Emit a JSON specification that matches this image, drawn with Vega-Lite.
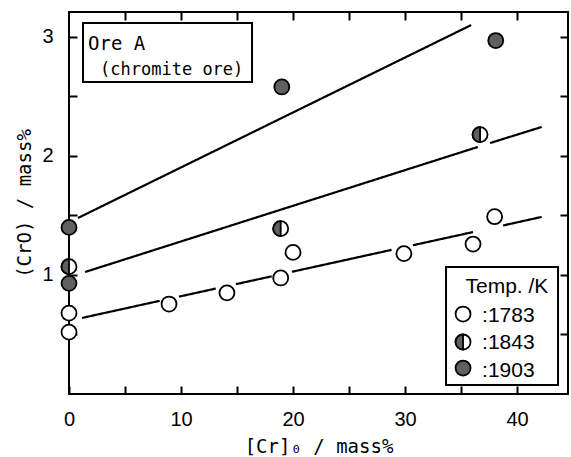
{
  "$schema": "https://vega.github.io/schema/vega-lite/v6.json",
  "width": 499,
  "height": 382,
  "autosize": {"type": "none"},
  "padding": {"left": 69, "top": 12, "right": 3, "bottom": 63},
  "background": "white",
  "config": {
    "view": {"stroke": "black", "strokeWidth": 2},
    "axis": {"domain": false, "grid": false, "tickColor": "black", "tickWidth": 2, "labelColor": "black", "titleColor": "black", "labelFlush": false, "labelOverlap": false}
  },
  "datasets": {
    "pts": [
      {"role": "data", "temp": 1783, "x": 0, "y": 0.52},
      {"role": "data", "temp": 1783, "x": 0, "y": 0.68},
      {"role": "data", "temp": 1783, "x": 8.93, "y": 0.756},
      {"role": "data", "temp": 1783, "x": 14.1, "y": 0.85},
      {"role": "data", "temp": 1783, "x": 18.9, "y": 0.975},
      {"role": "data", "temp": 1783, "x": 20.0, "y": 1.19},
      {"role": "data", "temp": 1783, "x": 29.9, "y": 1.18},
      {"role": "data", "temp": 1783, "x": 36.07, "y": 1.26},
      {"role": "data", "temp": 1783, "x": 38.0, "y": 1.49},
      {"role": "data", "temp": 1843, "x": 0, "y": 1.07},
      {"role": "data", "temp": 1843, "x": 18.9, "y": 1.39},
      {"role": "data", "temp": 1843, "x": 36.7, "y": 2.18},
      {"role": "data", "temp": 1903, "x": 0, "y": 1.40},
      {"role": "data", "temp": 1903, "x": 0, "y": 0.93},
      {"role": "data", "temp": 1903, "x": 19.0, "y": 2.58},
      {"role": "data", "temp": 1903, "x": 38.1, "y": 2.97},
      {"role": "legend", "temp": 1783, "x": 35.18, "y": 0.672},
      {"role": "legend", "temp": 1843, "x": 35.18, "y": 0.437},
      {"role": "legend", "temp": 1903, "x": 35.18, "y": 0.218}
    ],
    "segs": [
      {"temp": 1783, "seg": "a", "x": 1.16, "y": 0.639},
      {"temp": 1783, "seg": "a", "x": 8.1, "y": 0.783},
      {"temp": 1783, "seg": "b", "x": 9.82, "y": 0.818},
      {"temp": 1783, "seg": "b", "x": 13.1, "y": 0.886},
      {"temp": 1783, "seg": "c", "x": 14.9, "y": 0.923},
      {"temp": 1783, "seg": "c", "x": 18.1, "y": 0.989},
      {"temp": 1783, "seg": "d", "x": 19.9, "y": 1.027},
      {"temp": 1783, "seg": "d", "x": 28.8, "y": 1.211},
      {"temp": 1783, "seg": "e", "x": 30.7, "y": 1.250},
      {"temp": 1783, "seg": "e", "x": 36.07, "y": 1.361},
      {"temp": 1783, "seg": "f", "x": 38.75, "y": 1.416},
      {"temp": 1783, "seg": "f", "x": 42.2, "y": 1.488},
      {"temp": 1843, "seg": "a", "x": 1.43, "y": 1.025},
      {"temp": 1843, "seg": "a", "x": 36.5, "y": 2.076},
      {"temp": 1843, "seg": "b", "x": 37.6, "y": 2.109},
      {"temp": 1843, "seg": "b", "x": 42.2, "y": 2.244},
      {"temp": 1903, "seg": "a", "x": 0.8, "y": 1.479},
      {"temp": 1903, "seg": "a", "x": 35.9, "y": 3.10}
    ],
    "boxes": [
      {"name": "ore", "x": 1.25, "x2": 16.34, "y": 2.622, "y2": 3.118},
      {"name": "legend", "x": 33.66, "x2": 43.66, "y": 0.076, "y2": 1.067}
    ],
    "texts": [
      {"kind": "big", "x": 1.70, "y": 2.89, "text": "Ore A"},
      {"kind": "small", "x": 2.77, "y": 2.68, "text": "(chromite ore)"},
      {"kind": "legendTitle", "x": 39.1, "y": 0.849, "text": "Temp. /K"},
      {"kind": "legend", "x": 36.88, "y": 0.605, "text": ":1783"},
      {"kind": "legend", "x": 36.88, "y": 0.378, "text": ":1843"},
      {"kind": "legend", "x": 36.88, "y": 0.143, "text": ":1903"}
    ]
  },
  "encoding": {
    "x": {"field": "x", "type": "quantitative", "scale": {"domain": [0, 44.55], "nice": false, "zero": false}, "axis": null},
    "y": {"field": "y", "type": "quantitative", "scale": {"domain": [0, 3.21], "nice": false, "zero": false}, "axis": null}
  },
  "layer": [
    {
      "data": {"name": "segs"},
      "mark": {"type": "line", "color": "black", "strokeWidth": 2.2},
      "encoding": {
        "x": {"field": "x", "type": "quantitative", "scale": {"domain": [0, 44.55], "nice": false, "zero": false},
          "axis": {"orient": "bottom", "values": [0, 5, 10, 15, 20, 25, 30, 35, 40], "format": "d", "labelExpr": "datum.value % 10 === 0 ? datum.label : ''",
            "tickSize": -8, "labelPadding": 23, "labelFont": "Liberation Sans", "labelFontSize": 20,
            "title": "[Cr]₀ / mass%", "titleFont": "DejaVu Sans Mono", "titleFontSize": 19, "titleFontWeight": "normal", "titlePadding": 8}},
        "y": {"field": "y", "type": "quantitative", "scale": {"domain": [0, 3.21], "nice": false, "zero": false},
          "axis": {"orient": "left", "values": [0.5, 1, 1.5, 2, 2.5, 3], "format": ".0f", "labelExpr": "datum.value % 1 === 0 ? datum.label : ''",
            "tickSize": -8, "labelPadding": 24, "labelFont": "Liberation Sans", "labelFontSize": 20,
            "title": "(CrO) / mass%", "titleFont": "DejaVu Sans Mono", "titleFontSize": 19, "titleFontWeight": "normal", "titlePadding": 7}},
        "detail": {"field": "temp", "type": "nominal"},
        "order": {"field": "x", "type": "quantitative"},
        "strokeDash": {"field": "seg", "type": "nominal", "legend": null, "scale": {"range": [[1, 0]]}}
      }
    },
    {
      "data": {"name": "boxes"},
      "mark": {"type": "rect", "fill": "white", "stroke": "black", "strokeWidth": 2},
      "encoding": {
        "x": {"field": "x", "type": "quantitative", "scale": {"domain": [0, 44.55], "nice": false, "zero": false},
          "axis": {"orient": "top", "values": [5, 10, 15, 20, 25, 30, 35, 40], "labels": false, "tickSize": -8, "title": null}},
        "x2": {"field": "x2"},
        "y": {"field": "y", "type": "quantitative", "scale": {"domain": [0, 3.21], "nice": false, "zero": false},
          "axis": {"orient": "right", "values": [0.5, 1, 1.5, 2, 2.5, 3], "labels": false, "tickSize": -8, "title": null}},
        "y2": {"field": "y2"}
      }
    },
    {
      "data": {"name": "texts"},
      "transform": [{"filter": "datum.kind === 'big'"}],
      "mark": {"type": "text", "font": "DejaVu Sans Mono", "fontSize": 19, "align": "left", "baseline": "alphabetic", "color": "black"},
      "encoding": {"text": {"field": "text"}}
    },
    {
      "data": {"name": "texts"},
      "transform": [{"filter": "datum.kind === 'small'"}],
      "mark": {"type": "text", "font": "DejaVu Sans Mono", "fontSize": 17, "align": "left", "baseline": "alphabetic", "color": "black"},
      "encoding": {"text": {"field": "text"}}
    },
    {
      "data": {"name": "texts"},
      "transform": [{"filter": "datum.kind === 'legendTitle'"}],
      "mark": {"type": "text", "font": "Liberation Sans", "fontSize": 21, "align": "center", "baseline": "alphabetic", "color": "black"},
      "encoding": {"text": {"field": "text"}}
    },
    {
      "data": {"name": "texts"},
      "transform": [{"filter": "datum.kind === 'legend'"}],
      "mark": {"type": "text", "font": "Liberation Sans", "fontSize": 21, "align": "left", "baseline": "alphabetic", "color": "black"},
      "encoding": {"text": {"field": "text"}}
    },
    {
      "data": {"name": "pts"},
      "transform": [{"filter": "datum.temp !== 1903"}],
      "mark": {"type": "point", "shape": "circle", "filled": true, "fill": "white", "stroke": "black", "strokeWidth": 1.8, "size": 225, "opacity": 1}
    },
    {
      "data": {"name": "pts"},
      "transform": [{"filter": "datum.temp === 1843"}],
      "mark": {"type": "point", "shape": "M0,-1A1,1 0 0,0 0,1Z", "filled": true, "fill": "#606060", "stroke": "black", "strokeWidth": 1.8, "size": 225, "opacity": 1}
    },
    {
      "data": {"name": "pts"},
      "transform": [{"filter": "datum.temp === 1903"}],
      "mark": {"type": "point", "shape": "circle", "filled": true, "fill": "#606060", "stroke": "black", "strokeWidth": 1.8, "size": 225, "opacity": 1}
    }
  ],
  "resolve": {"axis": {"x": "independent", "y": "independent"}}
}
